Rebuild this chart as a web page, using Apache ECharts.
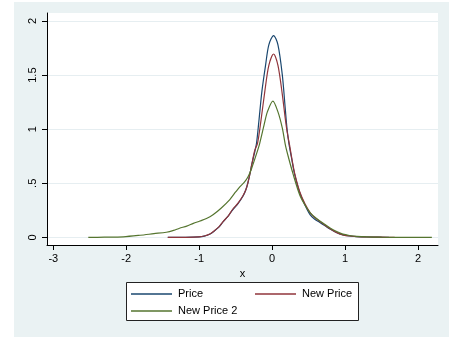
<!DOCTYPE html>
<html>
<head>
<meta charset="utf-8">
<script src="https://cdn.jsdelivr.net/npm/echarts@6/dist/echarts.min.js"></script>
<style>
html,body{margin:0;padding:0;background:#fff;}
#c{width:457px;height:337px;}
</style>
</head>
<body>
<div id="c"></div>
<script>
// ---- data ----
const seriesNames = ['Price', 'New Price', 'New Price 2'];

const priceX = [-1.43, -1.2, -1.0, -0.93, -0.855, -0.8, -0.73, -0.67, -0.6, -0.535, -0.47, -0.4, -0.36, -0.33, -0.3, -0.28, -0.245, -0.214, -0.182, -0.14, -0.09, -0.045, 0.02, 0.08, 0.14, 0.18, 0.205, 0.23, 0.27, 0.31, 0.38, 0.45, 0.52, 0.58, 0.65, 0.72, 0.8, 0.88, 0.97, 1.06, 1.16, 1.3, 1.45, 1.6];
const priceY = [0, 0.001, 0.005, 0.012, 0.03, 0.055, 0.095, 0.146, 0.2, 0.26, 0.31, 0.38, 0.44, 0.51, 0.6, 0.67, 0.77, 0.87, 1.07, 1.35, 1.59, 1.78, 1.865, 1.78, 1.5, 1.19, 1.0, 0.87, 0.72, 0.58, 0.41, 0.3, 0.21, 0.17, 0.14, 0.11, 0.075, 0.045, 0.023, 0.013, 0.008, 0.004, 0.002, 0];

const newPriceX = [-1.43, -1.2, -1.0, -0.93, -0.855, -0.8, -0.73, -0.67, -0.6, -0.535, -0.47, -0.4, -0.36, -0.33, -0.3, -0.28, -0.24, -0.2, -0.155, -0.1, -0.045, 0.02, 0.08, 0.14, 0.18, 0.205, 0.24, 0.27, 0.31, 0.38, 0.45, 0.52, 0.58, 0.65, 0.72, 0.8, 0.88, 0.97, 1.06, 1.16, 1.3, 1.5, 1.68];
const newPriceY = [0, 0.001, 0.005, 0.013, 0.032, 0.057, 0.097, 0.148, 0.2, 0.265, 0.315, 0.385, 0.44, 0.51, 0.6, 0.67, 0.8, 0.87, 1.07, 1.35, 1.59, 1.695, 1.59, 1.32, 1.1, 0.98, 0.85, 0.73, 0.59, 0.42, 0.31, 0.23, 0.185, 0.15, 0.115, 0.078, 0.047, 0.024, 0.013, 0.008, 0.004, 0.002, 0];

const newPrice2X = [-2.52, -2.3, -2.04, -1.81, -1.62, -1.45, -1.35, -1.27, -1.17, -1.08, -0.99, -0.9, -0.81, -0.7, -0.58, -0.5, -0.44, -0.38, -0.33, -0.28, -0.22, -0.17, -0.11, -0.065, 0.01, 0.08, 0.14, 0.18, 0.22, 0.29, 0.38, 0.45, 0.52, 0.6, 0.7, 0.8, 0.9, 0.97, 1.06, 1.16, 1.3, 1.5, 1.8, 2.19];
const newPrice2Y = [0, 0.002, 0.006, 0.02, 0.035, 0.048, 0.065, 0.085, 0.105, 0.13, 0.152, 0.175, 0.21, 0.27, 0.35, 0.42, 0.47, 0.51, 0.56, 0.64, 0.76, 0.87, 1.04, 1.16, 1.26, 1.16, 1.01, 0.86, 0.75, 0.58, 0.39, 0.3, 0.23, 0.18, 0.13, 0.085, 0.05, 0.03, 0.018, 0.01, 0.005, 0.002, 0.001, 0];

const xTicks = [-3, -2, -1, 0, 1, 2];
const xTickLabels = ['-3', '-2', '-1', '0', '1', '2'];
const yTicks = [0, 0.5, 1, 1.5, 2];
const yTickLabels = ['0', '.5', '1', '1.5', '2'];
const xTitle = 'x';

// ---- chart ----
const colors = ['#1A476F', '#90353B', '#55752F'];
const zip = (xs, ys) => xs.map((x, i) => [x, ys[i]]);
const FONT = '"Liberation Sans", Arial, sans-serif';

const chart = echarts.init(document.getElementById('c'), null, {renderer: 'canvas'});

function mkSeries(name, xs, ys, color) {
  return {
    name: name, type: 'line', data: zip(xs, ys),
    showSymbol: false, symbol: 'none', smooth: 0.3,
    lineStyle: {color: color, width: 1.2},
    itemStyle: {color: color},
    clip: true, silent: true, z: 3
  };
}

const legendCommon = {
  orient: 'horizontal', icon: 'rect', itemWidth: 41, itemHeight: 1.5, padding: 0,
  itemGap: 11, selectedMode: false,
  textStyle: {fontFamily: FONT, fontSize: 11, color: '#000', width: 66, lineHeight: 14, padding: [0,0,0,1]},
  z: 10
};

chart.setOption({
  animation: false,
  color: colors,
  textStyle: {fontFamily: FONT},
  graphic: [
    {type: 'rect', shape: {x: 14, y: 2, width: 435, height: 335}, style: {fill: '#EAF2F3'}, z: -10, silent: true},
    {type: 'rect', shape: {x: 126.5, y: 282.5, width: 232, height: 38}, style: {fill: '#fff', stroke: '#222', lineWidth: 1}, z: 1, silent: true}
  ],
  grid: {left: 47, top: 13, width: 391, height: 232, show: true, backgroundColor: '#fff', borderWidth: 0, containLabel: false},
  legend: [
    Object.assign({}, legendCommon, {data: [seriesNames[0], seriesNames[1]], left: 131, top: 287}),
    Object.assign({}, legendCommon, {data: [seriesNames[2]], left: 131, top: 304})
  ],
  xAxis: {
    type: 'value', min: -3.086, max: 2.274,
    name: xTitle, nameLocation: 'middle', nameGap: 20,
    nameTextStyle: {fontFamily: FONT, fontSize: 11, color: '#000'},
    axisLine: {show: true, onZero: false, lineStyle: {color: '#000', width: 1}},
    axisTick: {show: true, length: 5, customValues: xTicks, lineStyle: {color: '#000'}},
    axisLabel: {customValues: xTicks, margin: 8, fontFamily: FONT, fontSize: 11, color: '#000',
      formatter: v => xTickLabels[xTicks.indexOf(v)] ?? ''},
    splitLine: {show: false}
  },
  yAxis: {
    type: 'value', min: -0.07, max: 2.074,
    axisLine: {show: true, onZero: false, lineStyle: {color: '#000', width: 1}},
    axisTick: {show: true, length: 5, customValues: yTicks, lineStyle: {color: '#000'}},
    axisLabel: {customValues: yTicks, rotate: 90, margin: 9, fontFamily: FONT, fontSize: 11, color: '#000',
      formatter: v => yTickLabels[yTicks.indexOf(v)] ?? ''},
    splitLine: {show: true, lineStyle: {color: '#E6EEF1', width: 1.2}}
  },
  series: [
    mkSeries(seriesNames[0], priceX, priceY, colors[0]),
    mkSeries(seriesNames[1], newPriceX, newPriceY, colors[1]),
    mkSeries(seriesNames[2], newPrice2X, newPrice2Y, colors[2])
  ]
});
</script>
</body>
</html>
